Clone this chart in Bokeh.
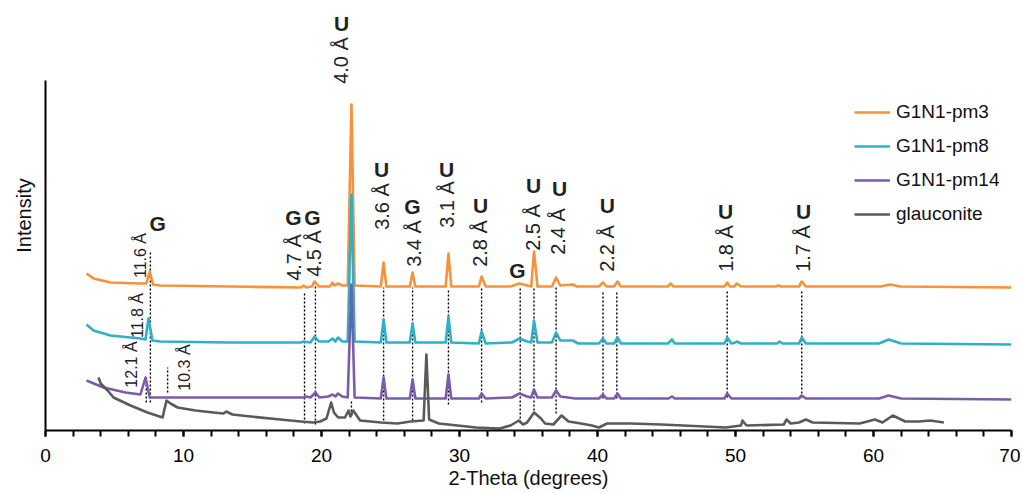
import math
from bokeh.plotting import figure
from bokeh.models import Range1d, Legend, LegendItem, SingleIntervalTicker, FixedTicker
from bokeh.core.properties import value
from bokeh.embed import file_html
from bokeh.resources import INLINE

# ---------------- data (2-Theta in degrees, intensity in plot units, stacked) ----------------
pm3_theta = [2.97, 3.48, 4.71, 6.88, 7.3, 7.55, 7.8, 8.3, 13.4, 18.5, 18.7, 18.9, 19.3, 19.5, 19.8,
             20.6, 20.8, 20.9, 21.2, 21.5, 21.9, 22.17, 22.4, 24.3, 24.5, 24.7, 26.4, 26.6, 26.8,
             29.0, 29.2, 29.4, 31.4, 31.6, 31.9, 33.7, 34.35, 34.9, 35.2, 35.4, 35.65, 36.7, 37.0,
             37.3, 38.2, 38.5, 40.1, 40.4, 40.65, 41.2, 41.45, 41.7, 45.1, 45.3, 45.5, 49.2, 49.4,
             49.6, 49.9, 50.1, 50.4, 52.9, 53.1, 53.3, 54.6, 54.8, 55.1, 60.5, 61.2, 61.96, 70.0]
pm3_int = [157, 152, 148, 147, 147, 159, 146, 145, 144, 143, 145, 143, 144, 149, 144,
           144, 148, 145, 147, 145, 145, 326, 145, 144, 168, 144, 144, 158, 144,
           144, 177, 144, 144, 154, 144, 144, 147, 145, 144, 179, 144, 144, 153,
           145, 146, 144, 144, 148, 144, 144, 149, 144, 144, 147, 144, 144, 148,
           144, 144, 147, 144, 144, 145, 144, 144, 149, 144, 144, 146, 144, 143]

pm8_theta = [2.97, 3.48, 4.71, 6.88, 7.25, 7.46, 7.75, 8.3, 13.2, 18.5, 18.7, 19.2, 19.5, 19.8,
             20.5, 20.8, 21.0, 21.2, 21.5, 21.9, 22.17, 22.4, 24.3, 24.5, 24.7, 26.4, 26.6, 26.8,
             29.0, 29.2, 29.4, 31.4, 31.6, 31.9, 33.8, 34.35, 34.9, 35.2, 35.4, 35.65, 36.7, 37.0,
             37.3, 38.2, 38.6, 40.1, 40.4, 40.65, 41.2, 41.45, 41.7, 45.1, 45.4, 45.6, 49.2, 49.4,
             49.7, 50.0, 50.1, 50.4, 53.0, 53.2, 53.4, 54.6, 54.8, 55.1, 60.4, 61.1, 62.0, 70.0]
pm8_int = [106, 100, 95, 92, 91, 112, 90, 89, 88, 88, 89, 88, 94, 89,
           89, 92, 89, 93, 89, 89, 236, 89, 88, 111, 88, 88, 107, 88,
           88, 114, 88, 87, 99, 87, 88, 92, 89, 88, 110, 88, 88, 98,
           90, 90, 87, 87, 92, 87, 87, 93, 87, 87, 91, 87, 87, 93,
           87, 88, 89, 87, 87, 89, 87, 87, 93, 87, 87, 91, 87, 86]

pm14_theta = [2.97, 4.2, 5.8, 6.88, 7.25, 7.55, 13.2, 18.7, 18.9, 19.2, 19.56, 19.85, 20.5, 20.8,
              21.0, 21.2, 21.5, 21.9, 22.17, 22.4, 24.3, 24.5, 24.7, 26.4, 26.6, 26.8, 29.0, 29.2,
              29.4, 31.4, 31.6, 31.9, 33.8, 34.35, 34.9, 35.2, 35.4, 35.65, 36.7, 37.0, 37.3, 38.4,
              40.1, 40.4, 40.65, 41.2, 41.45, 41.7, 45.15, 45.4, 45.6, 49.2, 49.4, 49.7, 54.6, 54.8,
              55.1, 60.4, 61.1, 62.0, 70.0]
pm14_int = [50, 43, 38, 36, 53, 33, 33, 33, 34, 33, 38, 33, 34, 36,
            34, 37, 34, 33, 146, 33, 32, 53, 32, 32, 51, 32, 32, 56,
            32, 32, 37, 32, 33, 37, 34, 33, 41, 33, 33, 40, 34, 32,
            32, 36, 32, 32, 37, 32, 32, 34, 32, 32, 37, 32, 32, 35,
            32, 32, 35, 32, 31]

glauc_theta = [3.84, 4.0, 4.5, 4.93, 6.16, 7.39, 8.48, 8.77, 9.06, 9.57, 10.87, 12.17, 12.9, 13.1,
               13.55, 14.86, 17.0, 18.5, 19.4, 19.9, 20.36, 20.7, 20.9, 21.2, 21.7, 21.96, 22.1,
               22.3, 22.5, 22.8, 24.3, 25.5, 26.45, 27.4, 27.6, 27.8, 28.5, 31.2, 32.9, 33.7, 34.3,
               34.6, 34.9, 35.4, 35.9, 36.2, 36.8, 37.4, 37.9, 38.8, 39.6, 40.1, 40.7, 42.4, 44.6,
               46.2, 49.3, 50.4, 50.5, 50.8, 53.5, 53.7, 54.0, 54.6, 55.1, 55.6, 59.0, 60.1, 60.65,
               61.4, 62.3, 63.3, 64.1, 65.1]
glauc_int = [53, 47, 40, 33, 25, 18, 13, 30, 27, 23, 20, 18, 17, 19,
             16, 14, 11, 9, 8, 9, 12, 28, 18, 13, 13, 20, 14,
             20, 16, 10, 8, 7, 9, 10, 76, 11, 7, 3, 2, 5, 10,
             6, 8, 18, 12, 7, 6, 15, 9, 7, 5, 3, 7, 7, 6,
             5, 3, 5, 10, 5, 6, 11, 7, 8, 11, 8, 7, 11, 8,
             15, 9, 9, 10, 8]

series_names = ["G1N1-pm3", "G1N1-pm8", "G1N1-pm14", "glauconite"]
series_colors = ["#F7923A", "#2FB0C9", "#7A5DAA", "#5A5A5A"]

# reflection markers: position and vertical extent of dotted lines
mark_theta = [7.6, 7.3, 8.85, 18.77, 19.56, 22.17, 24.5, 26.6, 29.2, 31.6, 34.4, 35.4, 37.0,
              40.4, 41.4, 49.4, 54.8]
mark_top = [180, 53, 63, 138, 146, 30, 143, 143, 142, 142, 143, 143, 143, 140, 140, 140, 140]
mark_bottom = [28, 28, 38, 7, 6, 15, 10, 10, 26, 28, 8, 20, 17, 32, 32, 33, 33]

# d-spacing labels (large)
d_labels = ["4.0 Å", "4.7 Å", "4.5 Å", "3.6 Å", "3.4 Å", "3.1 Å", "2.8 Å", "2.5 Å", "2.4 Å",
            "2.2 Å", "1.8 Å", "1.7 Å"]
d_x = [21.38, 18.04, 19.49, 24.42, 26.67, 29.13, 31.52, 35.36, 37.17, 40.72, 49.28, 54.86]
d_y = [370, 173, 177, 224, 187, 226, 187, 203, 199, 182, 182, 182]

# d-spacing labels (small, low-angle)
ds_labels = ["11.6 Å", "11.8 Å", "12.1 Å", "10.3 Å"]
ds_x = [6.88, 6.67, 6.23, 10.07]
ds_y = [175, 115, 66, 63]

# phase letters (G = glauconite, U = urea)
ph_labels = ["U", "G", "G", "G", "U", "G", "U", "U", "G", "U", "U", "U", "U", "U"]
ph_x = [21.45, 8.12, 17.97, 19.35, 24.35, 26.59, 29.06, 31.52, 34.2, 35.36, 37.25, 40.72, 49.28, 54.93]
ph_y = [407, 207, 213, 213, 261, 224, 261, 225, 160, 245, 242, 225, 219, 219]

x_ticks_major = 10
x_title = "2-Theta (degrees)"
y_title = "Intensity"
# ---------------------------------------------------------------------------------------------

FONT = "Liberation Sans"

p = figure(width=1020, height=493, output_backend="svg", toolbar_location=None,
           x_range=Range1d(0, 70), y_range=Range1d(0, 430),
           min_border_left=45, min_border_right=9, min_border_top=0, min_border_bottom=63)
p.outline_line_color = None
p.xgrid.visible = False
p.ygrid.visible = False

# dotted reference lines
p.segment(x0=mark_theta, y0=mark_bottom, x1=mark_theta, y1=mark_top,
          line_color="black", line_width=1.4, line_dash="2 2")

# traces
xs = [pm3_theta, pm8_theta, pm14_theta, glauc_theta]
ys = [pm3_int, pm8_int, pm14_int, glauc_int]
rends = []
for xv, yv, c in zip(xs, ys, series_colors):
    r = p.line(xv, yv, line_color=c, line_width=2.6, line_join="round")
    rends.append(r)

# labels
p.text(x=d_x, y=d_y, text=d_labels, angle=math.pi / 2, text_align="center",
       text_baseline="middle", text_font=value(FONT), text_font_size="20px", text_color="#222222")
p.text(x=ds_x, y=ds_y, text=ds_labels, angle=math.pi / 2, text_align="center",
       text_baseline="middle", text_font=value("'Liberation Sans Narrow', 'Liberation Sans'"),
       text_font_size="16px", text_color="#222222")
p.text(x=ph_x, y=ph_y, text=ph_labels, text_align="center", text_baseline="middle",
       text_font=value(FONT), text_font_size="21px", text_font_style="bold", text_color="#222222")

# legend
legend = Legend(items=[LegendItem(label=n, renderers=[r]) for n, r in zip(series_names, rends)],
                location=(809, 205), border_line_color=None, background_fill_alpha=0,
                padding=0, margin=0, spacing=12, label_standoff=6, glyph_width=36,
                glyph_height=20, label_height=20, label_text_font=FONT,
                label_text_font_size="19px", label_text_color="#111111")
p.add_layout(legend)

# x axis
xa = p.xaxis[0]
xa.ticker = SingleIntervalTicker(interval=x_ticks_major, num_minor_ticks=5)
xa.axis_line_width = 2
xa.axis_line_color = "black"
xa.major_tick_line_width = 2
xa.minor_tick_line_width = 2
xa.major_tick_line_color = "black"
xa.minor_tick_line_color = "black"
xa.major_tick_in = 0
xa.major_tick_out = 6
xa.minor_tick_in = 0
xa.minor_tick_out = 6
xa.major_label_text_font = FONT
xa.major_label_text_font_size = "19px"
xa.major_label_text_color = "black"
xa.major_label_standoff = 12
xa.axis_label = x_title
xa.axis_label_text_font = FONT
xa.axis_label_text_font_size = "20px"
xa.axis_label_text_font_style = "normal"
xa.axis_label_standoff = 2
xa.axis_label_text_color = "#111111"

# y axis
ya = p.yaxis[0]
ya.ticker = FixedTicker(ticks=[])
ya.bounds = (0, 350)
ya.axis_line_width = 2
ya.axis_line_color = "black"
ya.major_tick_line_color = None
ya.minor_tick_line_color = None
ya.major_label_text_font_size = "0px"
ya.axis_label = y_title
ya.axis_label_text_font = FONT
ya.axis_label_text_font_size = "20px"
ya.axis_label_text_font_style = "normal"
ya.axis_label_standoff = 11
ya.axis_label_text_color = "#111111"

open("out.html", "w").write(file_html(p, INLINE))
